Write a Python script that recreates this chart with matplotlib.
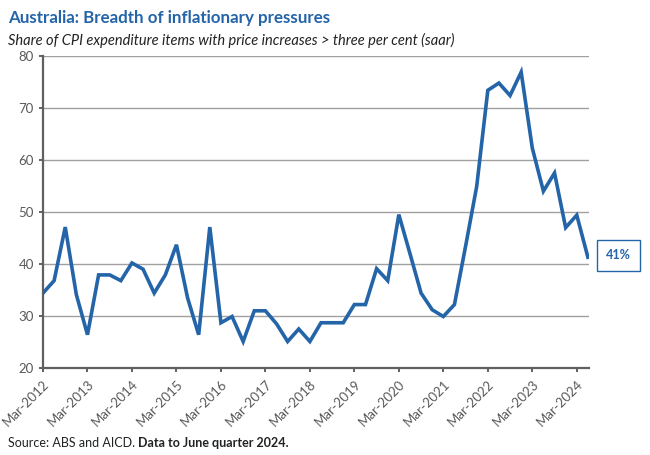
import matplotlib.pyplot as plt

# quarterly data, Mar-2012 to Jun-2024
share = [34.4, 36.8, 47.1, 34.1, 26.4, 37.9, 37.9, 36.8, 40.2, 39.0,
         34.4, 37.9, 43.7, 33.5, 26.4, 47.1, 28.7, 29.9, 25.1, 31.0,
         31.0, 28.5, 25.1, 27.5, 25.1, 28.7, 28.7, 28.7, 32.2, 32.2,
         39.1, 36.8, 49.5, 42.0, 34.4, 31.2, 29.9, 32.2, 43.4, 54.9,
         73.4, 74.8, 72.4, 76.9, 62.3, 54.0, 57.5, 47.0, 49.4, 41.3]
years = list(range(2012, 2025))
tick_labels = ["Mar-" + str(y) for y in years]
last_label = "41%"

blue = "#2464a8"
grey = "#595959"

plt.rcParams['font.family'] = ['Lato', 'DejaVu Sans']

fig = plt.figure(figsize=(6.5, 4.55), dpi=100)
ax = fig.add_axes([43 / 650, 1 - 368 / 455, 546 / 650, 312 / 455])

x = list(range(len(share)))
ax.plot(x, share, color=blue, lw=2.6, solid_joinstyle='miter', zorder=3)

ax.set_ylim(20, 80)
ax.set_yticks(range(20, 81, 10))
ax.set_xlim(0, 49.1)
ax.set_xticks([4 * i for i in range(len(years))])
ax.set_xticklabels(tick_labels, rotation=45, ha='right', rotation_mode='anchor')

ax.grid(axis='y', color='#a0a0a0', lw=1.0)
ax.set_axisbelow(True)
for s in ['top', 'right']:
    ax.spines[s].set_visible(False)
for s in ['left', 'bottom']:
    ax.spines[s].set_color('#606060')
    ax.spines[s].set_linewidth(1.6)
ax.tick_params(axis='both', colors='#606060', labelcolor=grey, labelsize=9.5,
               length=3, width=1.4)
ax.tick_params(axis='x', pad=4)

# end-of-line label
ax.annotate(last_label, xy=(x[-1], share[-1]), xytext=(22, 1.5),
            textcoords='offset points', ha='center', va='center',
            fontsize=9, fontweight='bold', color=blue,
            bbox=dict(boxstyle='square,pad=0.75', fc='white', ec=blue, lw=1.0),
            annotation_clip=False)

fig.text(8 / 650, 1 - 18 / 455, "Australia: Breadth of inflationary pressures",
         fontsize=12.2, fontweight='bold', color=blue, va='center', ha='left')
fig.text(8 / 650, 1 - 40 / 455,
         "Share of CPI expenditure items with price increases > three per cent (saar)",
         fontsize=10.5, style='italic', color='#222222', va='center', ha='left')

src = fig.text(8 / 650, 1 - 443 / 455, "Source: ABS and AICD. ",
               fontsize=9, color='#222222', va='center', ha='left')
fig.canvas.draw()
bb = src.get_window_extent()
fig.text(bb.x1 / fig.bbox.width, 1 - 443 / 455, "Data to June quarter 2024.",
         fontsize=9, fontweight='bold', color='#222222', va='center', ha='left')

fig.savefig("out.png", dpi=100)
